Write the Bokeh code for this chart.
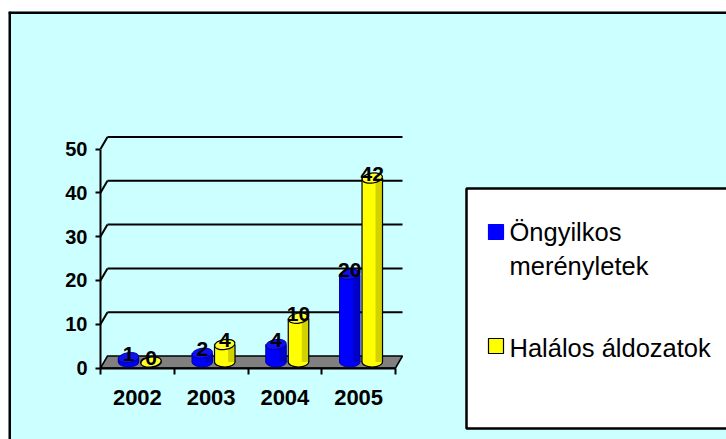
from bokeh.plotting import figure
from bokeh.models import Range1d, LinearAxis, FixedTicker, Span
from bokeh.core.properties import value
from bokeh.embed import file_html
from bokeh.resources import INLINE

# ---------------- data ----------------
years = ["2002", "2003", "2004", "2005"]
attacks = [1, 2, 4, 20]          # Öngyilkos merényletek
deaths = [0, 4, 10, 42]          # Halálos áldozatok
y_ticks = [0, 10, 20, 30, 40, 50]
legend_attacks = ["Öngyilkos", "merényletek"]
legend_deaths = ["Halálos áldozatok"]

# ---------------- layout helpers (figure pixel coordinates) ----------------
X0_PX, X_SCALE = 100.0, 73.75     # px of x=0, px per category
Y0_PX, Y_SCALE = 367.5, 4.38      # px of y=0, px per unit
FIG_W, FIG_H = 726, 439
FRAME_L, FRAME_T = 8, 11
FRAME_R, FRAME_B = FIG_W, FIG_H


def px2x(px):
    return (px - X0_PX) / X_SCALE


def px2y(py):
    return (Y0_PX - py) / Y_SCALE


DEPTH_X = 7 / X_SCALE
DEPTH_Y = 12 / Y_SCALE
BAR_W = 0.278
FONT = "Liberation Sans"

p = figure(width=FIG_W, height=FIG_H, output_backend="svg", toolbar_location=None,
           x_axis_type=None, y_axis_type=None, title=None,
           x_range=Range1d(px2x(FRAME_L), px2x(FRAME_R)),
           y_range=Range1d(px2y(FRAME_B), px2y(FRAME_T)),
           min_border_left=FRAME_L, min_border_right=0, min_border_bottom=0,
           min_border_top=FRAME_T)
p.background_fill_color = "#CCFFFF"
p.border_fill_color = "white"
p.outline_line_color = None
p.grid.visible = False

n = len(years)

# floor
p.patch(x=[0, n, n + DEPTH_X, DEPTH_X], y=[0, 0, DEPTH_Y, DEPTH_Y],
        fill_color="#808080", line_color="black", line_width=1.5)

# gridlines (side wall diagonal + back wall)
gv = y_ticks[1:]
p.segment(x0=[0] * len(gv), y0=gv, x1=[DEPTH_X] * len(gv), y1=[v + DEPTH_Y for v in gv],
          line_color="black", line_width=2)
p.segment(x0=[DEPTH_X] * len(gv), y0=[v + DEPTH_Y for v in gv],
          x1=[n + DEPTH_X] * len(gv), y1=[v + DEPTH_Y for v in gv],
          line_color="black", line_width=2)

# cylinders
base = DEPTH_Y / 2
series = [
    (attacks, -0.12, "#0000FF", "#0000C8", "#1010F0", "#0000A0", 1.0),
    (deaths, 0.185, "#FFFF00", "#D2D200", "#FFFF30", "black", 1.2),
]
for vals, off, body, dark, topc, edge, lw in series:
    xs = [i + 0.5 + off for i in range(n)]
    tops = [base + v for v in vals]
    p.ellipse(x=xs, y=[base] * n, width=BAR_W, height=10, height_units="screen",
              fill_color=body, line_color=edge, line_width=lw)
    p.vbar(x=xs, bottom=base, top=tops, width=BAR_W, fill_color=body, line_color=None)
    p.vbar(x=[x + BAR_W * 0.33 for x in xs], bottom=base, top=tops, width=BAR_W * 0.34,
           fill_color=dark, line_color=None)
    p.segment(x0=[x - BAR_W / 2 for x in xs], y0=[base] * n,
              x1=[x - BAR_W / 2 for x in xs], y1=tops, line_color=edge, line_width=lw)
    p.segment(x0=[x + BAR_W / 2 for x in xs], y0=[base] * n,
              x1=[x + BAR_W / 2 for x in xs], y1=tops, line_color=edge, line_width=lw)
    p.ellipse(x=xs, y=tops, width=BAR_W, height=10, height_units="screen", angle=0.15,
              fill_color=topc, line_color=edge, line_width=lw)
    p.text(x=xs, y=[t + 4 / Y_SCALE for t in tops], text=[str(v) for v in vals],
           text_align="center", text_baseline="alphabetic",
           text_font=value(FONT), text_font_style="bold", text_font_size="21px",
           text_color="black")

# axes
yaxis = LinearAxis(fixed_location=0, ticker=FixedTicker(ticks=y_ticks),
                   bounds=(y_ticks[0], y_ticks[-1]))
yaxis.axis_line_width = 2
yaxis.axis_line_color = "black"
yaxis.major_tick_line_width = 2
yaxis.major_tick_line_color = "black"
yaxis.major_tick_out = 5
yaxis.major_tick_in = 0
yaxis.minor_tick_line_color = None
yaxis.major_label_text_font = FONT
yaxis.major_label_text_font_style = "bold"
yaxis.major_label_text_font_size = "20px"
yaxis.major_label_text_color = "black"
yaxis.major_label_standoff = 8
p.add_layout(yaxis, "left")

centers = [i + 0.5 for i in range(n)]
xaxis = LinearAxis(fixed_location=0,
                   ticker=FixedTicker(ticks=centers, minor_ticks=list(range(n + 1))),
                   bounds=(0, n))
xaxis.axis_line_width = 2
xaxis.axis_line_color = "black"
xaxis.major_tick_line_color = None
xaxis.major_tick_out = 0
xaxis.major_tick_in = 0
xaxis.minor_tick_out = 6
xaxis.minor_tick_in = 0
xaxis.minor_tick_line_width = 2
xaxis.minor_tick_line_color = "black"
xaxis.major_label_overrides = {c: y for c, y in zip(centers, years)}
xaxis.major_label_text_font = FONT
xaxis.major_label_text_font_style = "bold"
xaxis.major_label_text_font_size = "22px"
xaxis.major_label_text_color = "black"
xaxis.major_label_standoff = 16
p.add_layout(xaxis, "below")

# legend box
p.quad(left=px2x(466), right=px2x(760), top=px2y(188), bottom=px2y(428),
       fill_color="white", line_color="black", line_width=2.5)
p.scatter(x=[px2x(495.5)] * 2, y=[px2y(231.5), px2y(345.5)], marker="square", size=15,
          fill_color=["#0000FF", "#FFFF00"], line_color=["#0000FF", "black"], line_width=1.2)
leg_text = legend_attacks + legend_deaths
p.text(x=[px2x(509)] * 3, y=[px2y(231), px2y(265), px2y(347)], text=leg_text,
       text_align="left", text_baseline="alphabetic",
       text_font=value(FONT), text_font_size="25.5px", text_color="black")

# chart-area border (left and top visible)
p.add_layout(Span(location=px2x(9), dimension="height", line_color="black", line_width=3))
p.add_layout(Span(location=px2y(12), dimension="width", line_color="black", line_width=3))

open("out.html", "w").write(file_html(p, INLINE))
